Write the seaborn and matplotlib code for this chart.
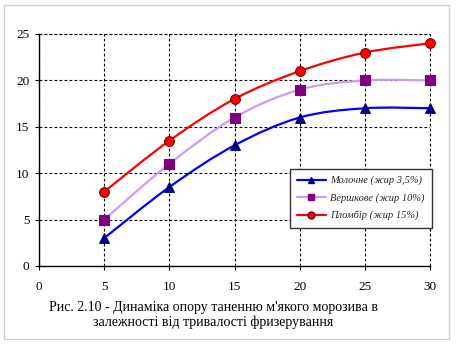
import matplotlib
matplotlib.use("Agg")
import matplotlib.pyplot as plt
import seaborn as sns
import pandas as pd
from matplotlib.path import Path
from matplotlib.patches import PathPatch, Rectangle
from matplotlib.lines import Line2D

time_min = [5, 10, 15, 20, 25, 30]
milk = [3, 8.5, 13, 16, 17, 17]
cream = [5, 11, 16, 19, 20, 20]
plombir = [8, 13.5, 18, 21, 23, 24]
series_names = ["Молочне (жир 3,5%)", "Вершкове (жир 10%)", "Пломбір (жир 15%)"]
x_ticks = [0, 5, 10, 15, 20, 25, 30]
y_ticks = [0, 5, 10, 15, 20, 25]
caption = "Рис. 2.10 - Динаміка опору таненню м'якого морозива в\nзалежності від тривалості фризерування"

styles = [
    dict(line="#0000FF", face="#000080", edge="#000080", marker="^", ms=7),
    dict(line="#CC99FF", face="#800080", edge="#800080", marker="s", ms=6.5),
    dict(line="#FF0000", face="#FF0000", edge="#800000", marker="o", ms=7),
]

sns.set_theme(style="white")
plt.rcParams['font.family'] = ['Liberation Serif', 'DejaVu Serif']

fig = plt.figure(figsize=(4.57, 3.46), dpi=100)
ax = fig.add_axes([39/457, 80/346, (430-39)/457, (266-34)/346])

df = pd.DataFrame({"x": time_min * 3,
                   "y": milk + cream + plombir,
                   "s": sum([[n] * len(time_min) for n in series_names], [])})


def smooth_path(xs, ys):
    n = len(xs)
    verts = [(xs[0], ys[0])]
    codes = [Path.MOVETO]
    for i in range(n - 1):
        x0, y0 = (xs[i - 1], ys[i - 1]) if i > 0 else (xs[i], ys[i])
        x1, y1 = xs[i], ys[i]
        x2, y2 = xs[i + 1], ys[i + 1]
        x3, y3 = (xs[i + 2], ys[i + 2]) if i + 2 < n else (x2, y2)
        c1 = (x1 + (x2 - x0) / 6, y1 + (y2 - y0) / 6)
        c2 = (x2 - (x3 - x1) / 6, y2 - (y3 - y1) / 6)
        verts += [c1, c2, (x2, y2)]
        codes += [Path.CURVE4] * 3
    return Path(verts, codes)


handles = []
for name, st in zip(series_names, styles):
    sub = df[df.s == name]
    ax.add_patch(PathPatch(smooth_path(list(sub.x), list(sub.y)), facecolor="none",
                           edgecolor=st["line"], lw=1.6, zorder=3))
    sns.scatterplot(x="x", y="y", data=sub, ax=ax, marker=st["marker"], s=st["ms"] ** 2,
                    color=st["face"], edgecolor=st["edge"], linewidth=0.8, zorder=4,
                    legend=False, clip_on=False)
    handles.append(Line2D([0], [0], color=st["line"], lw=1.6, marker=st["marker"],
                          markersize=st["ms"] - 2, markerfacecolor=st["face"],
                          markeredgecolor=st["edge"]))

ax.set_xlim(0, 30)
ax.set_ylim(0, 25)
ax.set_xticks(x_ticks)
ax.set_yticks(y_ticks)
ax.set_xlabel("")
ax.set_ylabel("")
grid_style = dict(color="black", linestyle=(0, (2.5, 2)), linewidth=0.8)
ax.grid(True, **grid_style)
ax.axvline(x_ticks[-1], clip_on=False, zorder=1, **grid_style)
ax.axhline(y_ticks[-1], clip_on=False, zorder=1, **grid_style)
ax.set_axisbelow(True)
for s in ["top", "right"]:
    ax.spines[s].set_visible(False)
for s in ["left", "bottom"]:
    ax.spines[s].set_color("black")
    ax.spines[s].set_linewidth(1.0)
ax.tick_params(axis="both", which="major", direction="out", length=3, width=0.8,
               colors="black", labelsize=9.5)
ax.tick_params(axis="x", pad=8, bottom=True)
ax.tick_params(axis="y", pad=4, left=True)

leg = ax.legend(handles, series_names, loc="lower right", bbox_to_anchor=(1.005, 0.165),
                prop=dict(family="Liberation Serif", style="italic", size=7.5),
                frameon=True, fancybox=False, shadow=False, framealpha=1,
                edgecolor="#333333", handlelength=2.8, handletextpad=0.4,
                borderpad=0.7, labelspacing=0.75, borderaxespad=0)
leg.get_frame().set_linewidth(1.0)
leg.set_zorder(6)

fig.text(0.467, 0.09, caption, ha="center", va="center", fontsize=10, color="black",
         linespacing=1.1)
fig.patches.append(Rectangle((4/457, 7/346), 445/457, 334/346, transform=fig.transFigure,
                             fill=False, edgecolor="#D0D0D0", lw=1))

fig.savefig("out.png", dpi=100)
